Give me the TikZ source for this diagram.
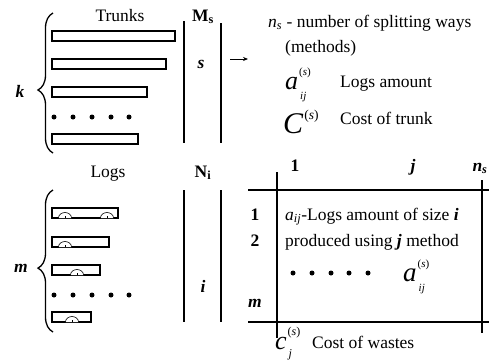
\documentclass[tikz,border=0pt]{standalone}
\usepackage{fontspec}
\setmainfont{Liberation Serif}
\usetikzlibrary{decorations.pathreplacing,arrows.meta}

\newcommand{\idxsym}[6]{{\fontsize{#1}{#1}\selectfont\textit{#2}}\kern1pt%
  \rlap{\raisebox{#4}{\fontsize{#3}{#3}\selectfont(\textit{s})}}%
  \raisebox{-#6}{\fontsize{#3}{#3}\selectfont\kern1pt\textit{#5}}}

\tikzset{
  txt/.style={inner sep=0pt,font=\fontsize{17.5}{21}\selectfont},
  bar/.style={draw=black,line width=1.8pt},
  notch/.style={draw=black,line width=0.6pt,fill=white},
  rule/.style={line width=1.1pt},
  brc/.style={decorate,decoration={brace,amplitude=15pt,aspect=0.45},line width=1.3pt}
}

\begin{document}
\begin{tikzpicture}[x=1pt,y=-1pt]
\useasboundingbox (0,0) rectangle (489,362);

\node[txt,anchor=base] (trunks) at (120,21) {Trunks};
\node[txt,anchor=base] (Ms) at (203,21) {\textbf{M}\textsubscript{\textbf{s}}};
\node[txt,anchor=base] (logs) at (108,177) {Logs};
\node[txt,anchor=base] (Ni) at (203,177) {\textbf{N}\textsubscript{\textbf{i}}};
\node[txt,anchor=base] (k) at (20,97) {\textbf{\textit{k}}};
\node[txt,anchor=base] (m) at (21,272) {\textbf{\textit{m}}};
\node[txt,anchor=base] (s) at (201,68) {\textbf{\textit{s}}};
\node[txt,anchor=base] (i) at (203,292) {\textbf{\textit{i}}};

\draw[brc] (53,153) -- (53,13);
\draw[brc] (53,332) -- (53,190);

\foreach \y/\xe in {31/175,59/166,87/147,134/138}
  \draw[bar] (52,\y) rectangle (\xe,\y+10);
\foreach \y/\xe in {208/118,237/109,265/100,312/91}
  \draw[bar] (52,\y) rectangle (\xe,\y+10);
\foreach \nx/\y in {65/208,107/208,65/237,77/265,72/312} {
  \draw[notch] (\nx-6.5,\y+10) arc[start angle=180,end angle=360,x radius=6.5,y radius=5.5];
  \draw[line width=0.4pt] (\nx,\y+10) -- (\nx,\y+7.5);
}
\foreach \x in {54,73,92,111,129} {
  \fill (\x,117) circle (2.5);
  \fill (\x,295) circle (2.5);
}

\draw[rule] (184,21) -- (184,143);
\draw[rule] (221,23) -- (221,143);
\draw[rule] (184,190) -- (184,322);
\draw[rule] (221,190) -- (221,322);

\coordinate (arrS) at (230,59);
\coordinate (arrE) at (248,59);
\draw[-{Stealth[length=5pt,width=4pt]},line width=0.8pt] (arrS) -- (arrE);

\node[txt,anchor=base west] (ns) at (268,27) {\textit{n}\textsubscript{\textit{s}} - number of splitting ways};
\node[txt,anchor=base west] (meth) at (285,52) {(methods)};
\node[txt,anchor=base west] (aij) at (285,89) {\idxsym{26}{a}{11}{14pt}{ij}{10pt}};
\node[txt,anchor=base west] (amt) at (340,87) {Logs amount};
\node[txt,anchor=base west] (Cs) at (283,133) {\idxsym{30}{C}{13.5}{14pt}{}{0pt}};
\node[txt,anchor=base west] (cost) at (340,124) {Cost of trunk};

\draw[rule] (248,190) -- (489,190);
\draw[rule] (248,322) -- (489,322);
\draw[rule] (277,172) -- (277,338);
\draw[rule] (482,180) -- (482,333);

\node[txt,anchor=base] (h1) at (295,171) {\textbf{1}};
\node[txt,anchor=base] (hj) at (413,171) {\textbf{\textit{j}}};
\node[txt,anchor=base] (hn) at (480,171) {\textbf{\textit{n}}\textsubscript{\textbf{\textit{s}}}};
\node[txt,anchor=base] (r1) at (255,220) {\textbf{1}};
\node[txt,anchor=base] (r2) at (255,246) {\textbf{2}};
\node[txt,anchor=base] (rm) at (255,307) {\textbf{\textit{m}}};
\node[txt,anchor=base west] (def1) at (285,220) {\textit{a}\textsubscript{\textit{ij}}-Logs amount of size \textbf{\textit{i}}};
\node[txt,anchor=base west] (def2) at (285,246) {produced using \textbf{\textit{j}} method};
\foreach \x in {293,312,331,349,368}
  \fill (\x,273) circle (2.5);
\node[txt,anchor=base west] (aij2) at (403,281) {\idxsym{27}{a}{11}{14pt}{ij}{10pt}};
\node[txt,anchor=base west] (cj) at (275,349) {\idxsym{26}{c}{12}{14pt}{j}{8pt}};
\node[txt,anchor=base west] (waste) at (312,348) {Cost of wastes};
\end{tikzpicture}
\end{document}
